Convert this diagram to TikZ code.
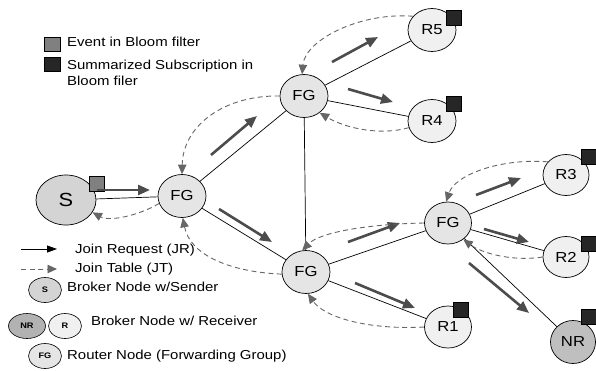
\documentclass[tikz,border=0pt]{standalone}
\usepackage{fontspec}
\setmainfont{Liberation Sans}[FakeStretch=1.15]
\usetikzlibrary{shapes.geometric,arrows.meta}
\begin{document}
\begin{tikzpicture}[x=1pt,y=-1pt,
  nd/.style={ellipse, draw=black, line width=0.7pt, inner sep=0pt, font=\fontsize{14.5}{17}\selectfont},
  fg/.style={nd, fill=black!10, minimum width=48pt, minimum height=43pt},
  rn/.style={nd, fill=black!6, minimum width=47pt, minimum height=42pt},
  edge/.style={line width=0.7pt},
  jr/.style={draw=black!70, line width=2.6pt, -{Triangle[length=12pt,width=10pt]}, fill=black!70},
  jt/.style={draw=black!60, line width=0.9pt, dash pattern=on 5pt off 3.5pt, -{Triangle[length=9.5pt,width=8.5pt]}},
  sq/.style={draw=black, line width=0.5pt, minimum size=15pt, inner sep=0pt},
  lbl/.style={inner sep=0pt, font=\fontsize{13}{16}\selectfont},
  small/.style={ellipse, draw=black, line width=0.6pt, inner sep=0pt, minimum width=33pt, minimum height=25pt, font=\bfseries\fontsize{8}{9}\selectfont}
]
\useasboundingbox (0,0) rectangle (596,370);

% main nodes
\node[nd, fill=black!17, minimum width=60pt, minimum height=50pt, font=\fontsize{19}{22}\selectfont] (S) at (66,200) {S};
\node[fg] (FG1) at (182,196) {FG};
\node[fg] (FGt) at (304,96) {FG};
\node[fg] (FGb) at (306,272) {FG};
\node[fg, minimum width=47pt, minimum height=42pt] (FGr) at (448,223) {FG};
\node[rn, minimum width=48pt, minimum height=43pt] (R5) at (432,30) {R5};
\node[rn, minimum width=48pt, minimum height=43pt] (R4) at (432,121) {R4};
\node[rn, minimum width=46pt, minimum height=41pt] (R3) at (566,175) {R3};
\node[rn, minimum width=46pt, minimum height=41pt] (R2) at (566,257) {R2};
\node[rn] (R1) at (448,327) {R1};
\node[nd, fill=black!25, minimum width=45pt, minimum height=43pt] (NR) at (573,342) {NR};

% solid links
\draw[edge] (S) -- (FG1);
\draw[edge] (FG1) -- (FGt);
\draw[edge] (FG1) -- (FGb);
\draw[edge] (FGt) -- (FGb);
\draw[edge] (FGt) -- (R5);
\draw[edge] (FGt) -- (R4);
\draw[edge] (FGb) -- (FGr);
\draw[edge] (FGb) -- (R1);
\draw[edge] (FGr) -- (R3);
\draw[edge] (FGr) -- (R2);
\draw[edge] (FGr) -- (NR);

% bloom filter squares
\node[sq, fill=black!50] (qS) at (97,184) {};
\node[sq, fill=black!85] (q5) at (453.5,18) {};
\node[sq, fill=black!85] (q4) at (453.5,104) {};
\node[sq, fill=black!85] (q3) at (589,157) {};
\node[sq, fill=black!85] (q2) at (589,244) {};
\node[sq, fill=black!85] (q1) at (461,310) {};
\node[sq, fill=black!85] (qN) at (589,317) {};

% join requests
\foreach \a/\b in {{97,190}/{150,190}, {211,155}/{257,116}, {332,62}/{378,37},
                   {348,89}/{393,102}, {219,209}/{272,242}, {348,242}/{400,223},
                   {355,283}/{415,308}, {476,195}/{521,178}, {484,229}/{529,242},
                   {469,263}/{529,313}}
  \draw[jr] (\a) -- (\b);

% join tables
\draw[jt] (FG1.198) .. controls (140,215) and (110,222) .. (S.-25);
\draw[jt] (FGt.180) .. controls (225,95) and (183,125) .. (FG1.90);
\draw[jt] (R5.144) .. controls (360,12) and (305,40) .. (FGt.95);
\draw[jt] (R4.196) .. controls (380,136) and (345,128) .. (FGt.-47);
\draw[jt] (FGb.185) .. controls (230,272) and (190,255) .. (FG1.-88);
\draw[jt] (FGr.180) .. controls (370,224) and (320,232) .. (FGb.100);
\draw[jt] (R3.144) .. controls (500,158) and (455,175) .. (FGr.95);
\draw[jt] (R2.180) .. controls (510,262) and (480,252) .. (FGr.-47);
\draw[jt] (R1.180) .. controls (370,330) and (325,318) .. (FGb.-85);

% legend
\node[sq, fill=black!50, minimum width=16pt, minimum height=14pt] (lgE) at (52,44) {};
\node[sq, fill=black!85, minimum width=16pt, minimum height=14pt] (lgS) at (52,64) {};
\node[lbl, anchor=west] (tE) at (67,42) {Event in Bloom filter};
\node[lbl, anchor=west, align=left] (tS) at (67,73) {Summarized Subscription in\\Bloom filer};

\coordinate (jrA) at (21,249);
\coordinate (jrB) at (57,249);
\draw[line width=0.8pt, -{Triangle[length=10pt,width=7pt]}] (jrA) -- (jrB);
\node[lbl, anchor=west] (tJR) at (75,250) {Join Request (JR)};
\coordinate (jtA) at (21,269);
\coordinate (jtB) at (57,269);
\draw[jt] (jtA) -- (jtB);
\node[lbl, anchor=west] (tJT) at (75,269) {Join Table (JT)};

\node[small, fill=black!17] (lS) at (45,290) {S};
\node[lbl, anchor=west] (tS2) at (67,287) {Broker Node w/Sender};
\node[small, fill=black!30, minimum width=37pt] (lNR) at (27,326) {NR};
\node[small, fill=black!6] (lR) at (65,326) {R};
\node[lbl, anchor=west] (tR) at (91,321) {Broker Node w/ Receiver};
\node[small, fill=black!10] (lFG) at (45,356) {FG};
\node[lbl, anchor=west] (tFG) at (67,356) {Router Node (Forwarding Group)};
\end{tikzpicture}
\end{document}
